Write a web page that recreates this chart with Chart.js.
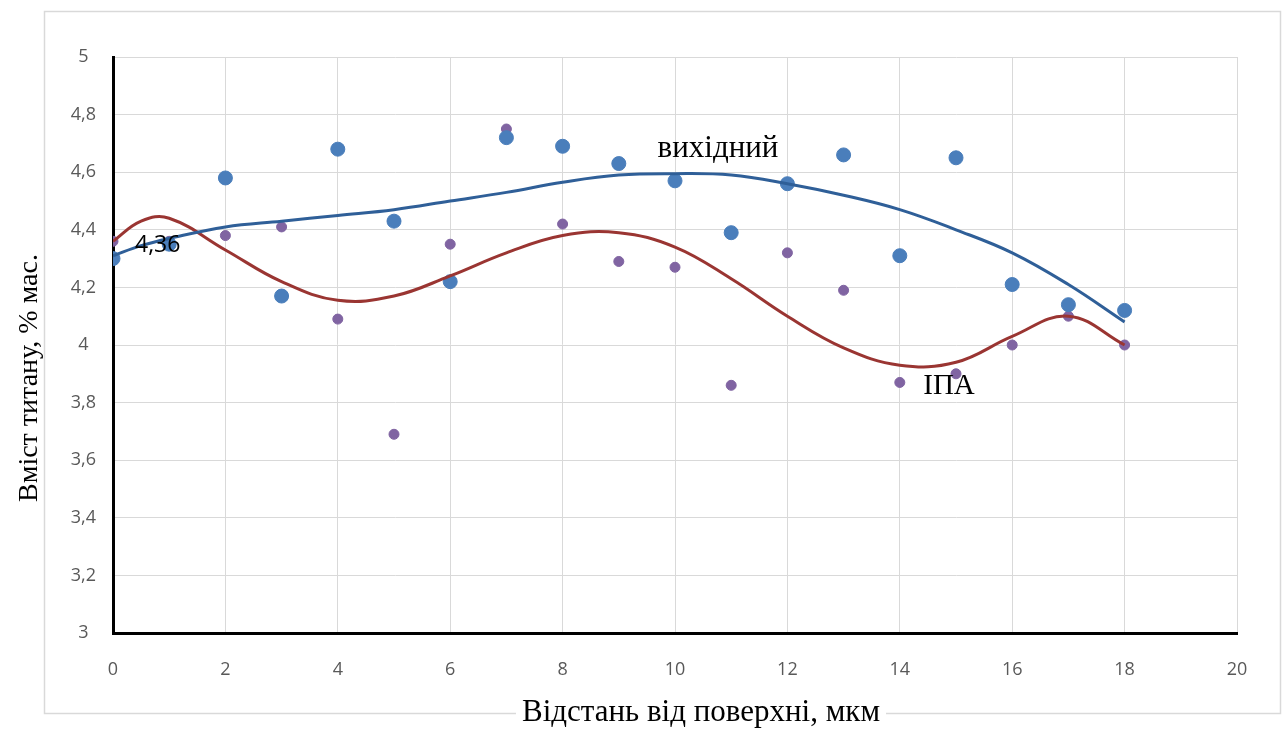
<!DOCTYPE html>
<html>
<head>
<meta charset="utf-8">
<script src="https://cdn.jsdelivr.net/npm/chart.js@4.4.1/dist/chart.umd.min.js"></script>
<style>
  html, body { margin: 0; padding: 0; background: #fff; }
  #wrap { width: 1284px; height: 735px; position: relative; }
</style>
</head>
<body>
<div id="wrap"><canvas id="chart" width="1284" height="735"></canvas></div>
<script>
// вимірювання (відстань від поверхні, мкм)
const depth = [0, 1, 2, 3, 4, 5, 6, 7, 8, 9, 10, 11, 12, 13, 14, 15, 16, 17, 18];
// вихідний зразок
const initialTi = [4.30, 4.35, 4.58, 4.17, 4.68, 4.43, 4.22, 4.72, 4.69, 4.63, 4.57, 4.39, 4.56, 4.66, 4.31, 4.65, 4.21, 4.14, 4.12];
// після ІПА
const ipaTi = [4.36, 4.36, 4.38, 4.41, 4.09, 3.69, 4.35, 4.75, 4.42, 4.29, 4.27, 3.86, 4.32, 4.19, 3.87, 3.90, 4.00, 4.10, 4.00];

// лінії тренду
const trendX = [0, 0.5, 1, 2, 3, 4, 5, 6, 7, 8, 9, 10, 11, 12, 13, 14, 15, 16, 17, 18];
const initialTrend = [4.31, 4.345, 4.37, 4.41, 4.43, 4.45, 4.47, 4.50, 4.53, 4.565, 4.59, 4.595, 4.59, 4.56, 4.52, 4.47, 4.40, 4.32, 4.21, 4.08];
const ipaTrend = [4.36, 4.43, 4.44, 4.33, 4.22, 4.155, 4.17, 4.24, 4.32, 4.38, 4.39, 4.34, 4.23, 4.10, 3.99, 3.93, 3.94, 4.03, 4.10, 4.00];

// підписи осей
const xTicks = [0, 2, 4, 6, 8, 10, 12, 14, 16, 18, 20];
const yTicks = [3, 3.2, 3.4, 3.6, 3.8, 4, 4.2, 4.4, 4.6, 4.8, 5];

const toXY = (xs, ys) => xs.map((x, i) => ({ x: x, y: ys[i] }));

// рамка, назви осей та підписи
const decorPlugin = {
  id: 'decor',
  beforeDraw(chart) {
    const ctx = chart.ctx;
    ctx.save();
    ctx.fillStyle = '#fff';
    ctx.fillRect(0, 0, chart.width, chart.height);
    ctx.strokeStyle = '#d9d9d9';
    ctx.lineWidth = 1.5;
    ctx.strokeRect(44.5, 11.5, 1236, 702);
    ctx.restore();
  },
  afterDraw(chart) {
    const ctx = chart.ctx;
    ctx.save();
    ctx.fillStyle = '#000';
    ctx.textBaseline = 'alphabetic';
    ctx.textAlign = 'center';
    // назва осі X
    ctx.font = '31px "Liberation Serif", serif';
    const xt = 'Відстань від поверхні, мкм';
    const w = ctx.measureText(xt).width;
    ctx.fillStyle = '#fff';
    ctx.fillRect(701 - w / 2 - 6, 706, w + 12, 16);
    ctx.fillStyle = '#000';
    ctx.fillText(xt, 701, 721);
    // назва осі Y
    ctx.save();
    ctx.translate(37, 378);
    ctx.rotate(-Math.PI / 2);
    ctx.font = '28px "Liberation Serif", serif';
    ctx.fillText('Вміст титану, % мас.', 0, 0);
    ctx.restore();
    // підписи кривих
    ctx.font = '31px "Liberation Serif", serif';
    ctx.fillText('вихідний', 718, 157);
    ctx.font = '29px "Liberation Serif", serif';
    ctx.fillText('ІПА', 949, 394);
    ctx.font = '23px "Open Sans", sans-serif';
    ctx.textAlign = 'left';
    ctx.fillText('4,36', 135, 252);
    ctx.restore();
  }
};

new Chart(document.getElementById('chart'), {
  type: 'scatter',
  data: {
    datasets: [
      {
        type: 'line',
        label: 'тренд вихідний',
        data: toXY(trendX, initialTrend),
        borderColor: '#2f5f98',
        borderWidth: 3,
        pointRadius: 0,
        tension: 0.4,
        fill: false,
        order: 1
      },
      {
        type: 'line',
        label: 'тренд ІПА',
        data: toXY(trendX, ipaTrend),
        borderColor: '#9a3532',
        borderWidth: 3,
        pointRadius: 0,
        tension: 0.4,
        fill: false,
        order: 1
      },
      {
        label: 'вихідний',
        data: toXY(depth, initialTi),
        backgroundColor: '#4a7ebb',
        borderColor: '#4a7ebb',
        pointRadius: 7,
        order: 2
      },
      {
        label: 'ІПА',
        data: toXY(depth, ipaTi),
        backgroundColor: '#8064a2',
        borderColor: '#8064a2',
        pointRadius: 5,
        order: 3
      }
    ]
  },
  options: {
    responsive: false,
    animation: false,
    layout: { padding: { left: 0, top: 57, right: 47, bottom: 0 } },
    plugins: {
      legend: { display: false },
      tooltip: { enabled: false }
    },
    scales: {
      x: {
        type: 'linear',
        min: 0,
        max: 20,
        afterFit: (s) => { s.height = 102; },
        afterBuildTicks: (s) => { s.ticks = xTicks.map(v => ({ value: v })); },
        grid: { color: '#d9d9d9', lineWidth: 1, drawTicks: false },
        border: { color: '#000', width: 3 },
        ticks: {
          padding: 26,
          color: '#595959',
          font: { family: '"Open Sans", sans-serif', size: 18 },
          callback: (v) => String(v)
        }
      },
      y: {
        type: 'linear',
        min: 3,
        max: 5,
        afterFit: (s) => { s.width = 113; },
        afterBuildTicks: (s) => { s.ticks = yTicks.map(v => ({ value: v })); },
        grid: { color: '#d9d9d9', lineWidth: 1, drawTicks: false },
        border: { color: '#000', width: 3 },
        ticks: {
          padding: 17,
          crossAlign: 'center',
          color: '#595959',
          font: { family: '"Open Sans", sans-serif', size: 18 },
          callback: (v) => String(Math.round(v * 10) / 10).replace('.', ',')
        }
      }
    }
  },
  plugins: [decorPlugin]
});
</script>
</body>
</html>
